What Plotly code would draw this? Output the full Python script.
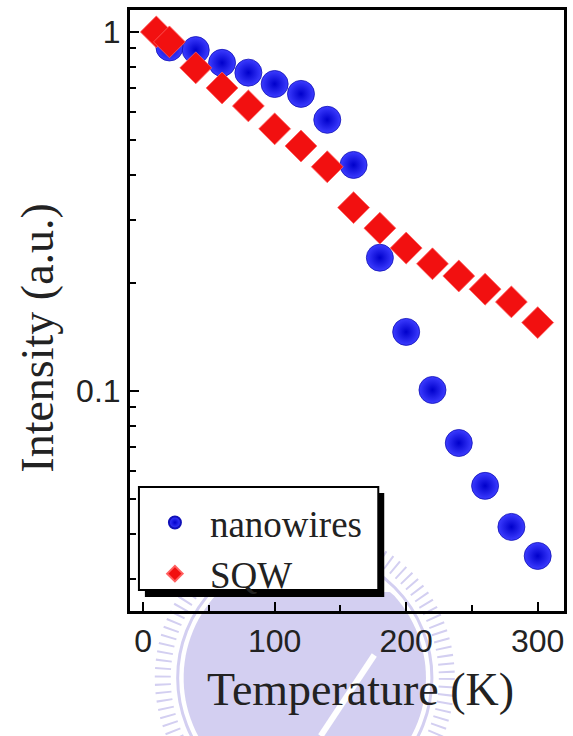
import numpy as np
import plotly.graph_objects as go

# Temperature-dependent integrated PL intensity, normalized
temp_nanowires = [20, 40, 60, 80, 100, 120, 140, 160, 180, 200, 220, 240, 260, 280, 300]
int_nanowires = [0.905, 0.89, 0.82, 0.77, 0.716, 0.672, 0.569, 0.426, 0.235, 0.146,
                 0.1006, 0.0716, 0.0544, 0.0418, 0.0347]

temp_sqw = [10, 20, 40, 60, 80, 100, 120, 140, 160, 180, 200, 220, 240, 260, 280, 300]
int_sqw = [1.0, 0.938, 0.794, 0.698, 0.622, 0.537, 0.481, 0.421, 0.324, 0.284,
           0.250, 0.226, 0.209, 0.192, 0.177, 0.155]

x_ticks = [0, 100, 200, 300]
y_ticks = [0.1, 1]
y_tick_text = ["0.1", "1"]
y_minor = [0.03, 0.04, 0.05, 0.06, 0.07, 0.08, 0.09,
           0.2, 0.3, 0.4, 0.5, 0.6, 0.7, 0.8, 0.9]

SERIF = "Liberation Serif, Times New Roman, serif"
SANS = "Liberation Sans, Arial, sans-serif"
LAVENDER = "#d3cff1"

fig = go.Figure()
fig.add_trace(go.Scatter(
    x=temp_nanowires, y=int_nanowires, mode="markers", name="nanowires",
    marker=dict(symbol="circle", size=27, color="#3c3cff",
                gradient=dict(type="radial", color="#0000cc"),
                line=dict(width=0.8, color="#1010b8")),
))
fig.add_trace(go.Scatter(
    x=temp_sqw, y=int_sqw, mode="markers", name="SQW",
    marker=dict(symbol="diamond", size=24.5, color="#f21010",
                line=dict(width=0.8, color="#ff6060")),
))

W, H = 573, 736
ML, MR, MT, MB = 130, 6, 10, 125
PW, PH = W - ML - MR, H - MT - MB


def px(x):
    return (x - ML) / PW


def py(y):
    return (H - MB - y) / PH


def circle(cx, cy, r, **kw):
    return dict(type="circle", xref="paper", yref="paper",
                x0=px(cx - r), x1=px(cx + r), y0=py(cy + r), y1=py(cy - r), **kw)


# faint emblem watermark behind the figure
WX, WY = 306, 678
theta = np.linspace(0, 2 * np.pi, 120)
seg_r, seg_top = 122, 592
pts = [(WX + seg_r * np.cos(t), WY + seg_r * np.sin(t)) for t in theta]
pts = [(x, max(y, seg_top)) for x, y in pts]
seg_path = "M " + " L ".join(f"{px(x):.4f},{py(y):.4f}" for x, y in pts) + " Z"

shapes = [
    circle(WX, WY, 143, layer="below", line=dict(color=LAVENDER, width=16, dash="2px,6px")),
    circle(WX, WY, 128, layer="below", line=dict(color=LAVENDER, width=3)),
    dict(type="path", xref="paper", yref="paper", layer="below", path=seg_path,
         fillcolor=LAVENDER, line=dict(width=0)),
    dict(type="line", xref="paper", yref="paper", layer="below",
         x0=px(322), y0=py(736), x1=px(376), y1=py(655),
         line=dict(color="white", width=6)),
    # legend drop shadow and box
    dict(type="rect", xref="paper", yref="paper", layer="above",
         x0=px(145), x1=px(386), y0=py(597), y1=py(493),
         fillcolor="black", line=dict(width=0)),
    dict(type="rect", xref="paper", yref="paper", layer="above",
         x0=px(139), x1=px(380), y0=py(590), y1=py(487),
         fillcolor="white", line=dict(color="black", width=2)),
]

fig.update_layout(
    width=W, height=H,
    margin=dict(l=ML, r=MR, t=MT, b=MB, pad=0),
    paper_bgcolor="white", plot_bgcolor="rgba(0,0,0,0)",
    showlegend=True,
    legend=dict(
        x=px(140), y=py(492), xanchor="left", yanchor="top",
        bgcolor="rgba(0,0,0,0)", borderwidth=0,
        font=dict(family=SERIF, size=37, color="#222"),
        itemsizing="constant", itemwidth=60, tracegroupgap=0,
    ),
    shapes=shapes,
    xaxis=dict(
        range=[-10, 320], tickmode="array", tickvals=x_ticks,
        ticks="inside", ticklen=9, tickwidth=2, tickcolor="black",
        showline=True, linecolor="black", linewidth=3, mirror=True,
        showgrid=False, zeroline=False,
        tickfont=dict(family=SANS, size=32, color="#222"),
        minor=dict(dtick=50, ticks="inside", ticklen=6, tickwidth=2,
                   tickcolor="black", showgrid=False),
    ),
    yaxis=dict(
        type="log", range=[-1.613, 0.061],
        tickmode="array", tickvals=y_ticks, ticktext=y_tick_text,
        ticks="inside", ticklen=9, tickwidth=2, tickcolor="black",
        showline=True, linecolor="black", linewidth=3, mirror=True,
        showgrid=False, zeroline=False,
        tickfont=dict(family=SANS, size=32, color="#222"),
        minor=dict(tickmode="array", tickvals=y_minor, ticks="inside",
                   ticklen=6, tickwidth=2, tickcolor="black", showgrid=False),
    ),
    annotations=[
        dict(text="Temperature (K)", xref="paper", yref="paper",
             x=px(362), y=py(690), xanchor="center", yanchor="middle",
             showarrow=False, font=dict(family=SERIF, size=46, color="#222")),
        dict(text="Intensity (a.u.)", xref="paper", yref="paper",
             x=px(36), y=py(338), xanchor="center", yanchor="middle",
             textangle=-90, showarrow=False,
             font=dict(family=SERIF, size=46, color="#222")),
    ],
)

fig.write_html("out.html")
